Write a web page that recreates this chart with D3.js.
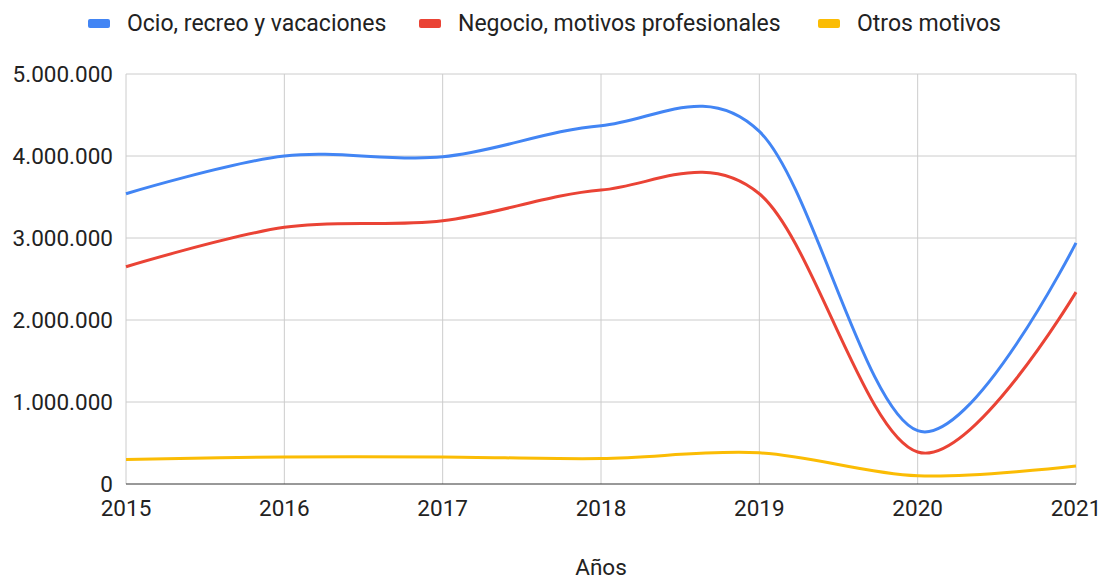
<!DOCTYPE html>
<html>
<head>
<meta charset="utf-8">
<script src="https://cdn.jsdelivr.net/npm/d3@7"></script>
<style>
  body { margin: 0; background: #fff; }
  text { font-family: Roboto, Arial, sans-serif; fill: #222; }
</style>
</head>
<body>
<div id="chart"></div>
<script>
const years = [2015, 2016, 2017, 2018, 2019, 2020, 2021];
const ocio = [3540000, 4000000, 3990000, 4370000, 4300000, 650000, 2940000];
const negocio = [2650000, 3130000, 3210000, 3585000, 3540000, 390000, 2340000];
const otros = [300000, 330000, 330000, 310000, 380000, 100000, 220000];
const yTicks = [0, 1000000, 2000000, 3000000, 4000000, 5000000];
const seriesNames = ["Ocio, recreo y vacaciones", "Negocio, motivos profesionales", "Otros motivos"];
const seriesColors = ["#4285f4", "#ea4335", "#fbbc04"];

const series = [ocio, negocio, otros].map((vals, i) => ({
    name: seriesNames[i],
    color: seriesColors[i],
    values: vals.map((v, j) => ({ year: years[j], value: v }))
}));

const width = 1100, height = 577;
const margin = { top: 74, right: 24, bottom: 93, left: 126 };
const fontSize = "22.5px";

const svg = d3.select("#chart").append("svg")
    .attr("width", width)
    .attr("height", height);

const x = d3.scaleLinear()
    .domain([2015, 2021])
    .range([margin.left, width - margin.right]);

const y = d3.scaleLinear()
    .domain([0, 5000000])
    .range([height - margin.bottom, margin.top]);

const fmt = v => d3.format(",")(v).replace(/,/g, ".");

// gridlines
svg.append("g")
    .selectAll("line")
    .data(yTicks.slice(1))
    .join("line")
    .attr("x1", margin.left)
    .attr("x2", width - margin.right)
    .attr("y1", d => y(d))
    .attr("y2", d => y(d))
    .attr("stroke", "#cccccc");

svg.append("g")
    .selectAll("line")
    .data(years)
    .join("line")
    .attr("x1", d => x(d))
    .attr("x2", d => x(d))
    .attr("y1", y(0))
    .attr("y2", y(5000000))
    .attr("stroke", "#cccccc");

// y labels
svg.append("g")
    .selectAll("text")
    .data(yTicks)
    .join("text")
    .attr("x", margin.left - 13)
    .attr("y", d => y(d))
    .attr("dy", "0.35em")
    .attr("text-anchor", "end")
    .style("font-size", fontSize)
    .text(d => fmt(d));

// x labels
svg.append("g")
    .selectAll("text")
    .data(years)
    .join("text")
    .attr("x", d => x(d))
    .attr("y", y(0) + 32)
    .attr("text-anchor", "middle")
    .style("font-size", fontSize)
    .text(d => d);

// lines
const line = d3.line()
    .x(d => x(d.year))
    .y(d => y(d.value))
    .curve(d3.curveCardinal.tension(0));

svg.append("g")
    .selectAll("path")
    .data(series.slice().reverse())
    .join("path")
    .attr("d", d => line(d.values))
    .attr("fill", "none")
    .attr("stroke", d => d.color)
    .attr("stroke-width", 3);

// baseline
svg.append("line")
    .attr("x1", margin.left)
    .attr("x2", width - margin.right)
    .attr("y1", y(0))
    .attr("y2", y(0))
    .attr("stroke", "#333333");

// axis title
svg.append("text")
    .attr("x", 601)
    .attr("y", 575)
    .attr("text-anchor", "middle")
    .style("font-size", fontSize)
    .text("Años");

// legend
const legendX = [88, 419, 818];
const legend = svg.append("g")
    .selectAll("g")
    .data(series)
    .join("g")
    .attr("transform", (d, i) => `translate(${legendX[i]},23)`);

legend.append("rect")
    .attr("x", 0)
    .attr("y", -4)
    .attr("width", 22)
    .attr("height", 9)
    .attr("rx", 2)
    .attr("fill", d => d.color);

legend.append("text")
    .attr("x", 39)
    .attr("y", 0)
    .attr("dy", "0.35em")
    .style("font-size", "23px")
    .text(d => d.name);
</script>
</body>
</html>
